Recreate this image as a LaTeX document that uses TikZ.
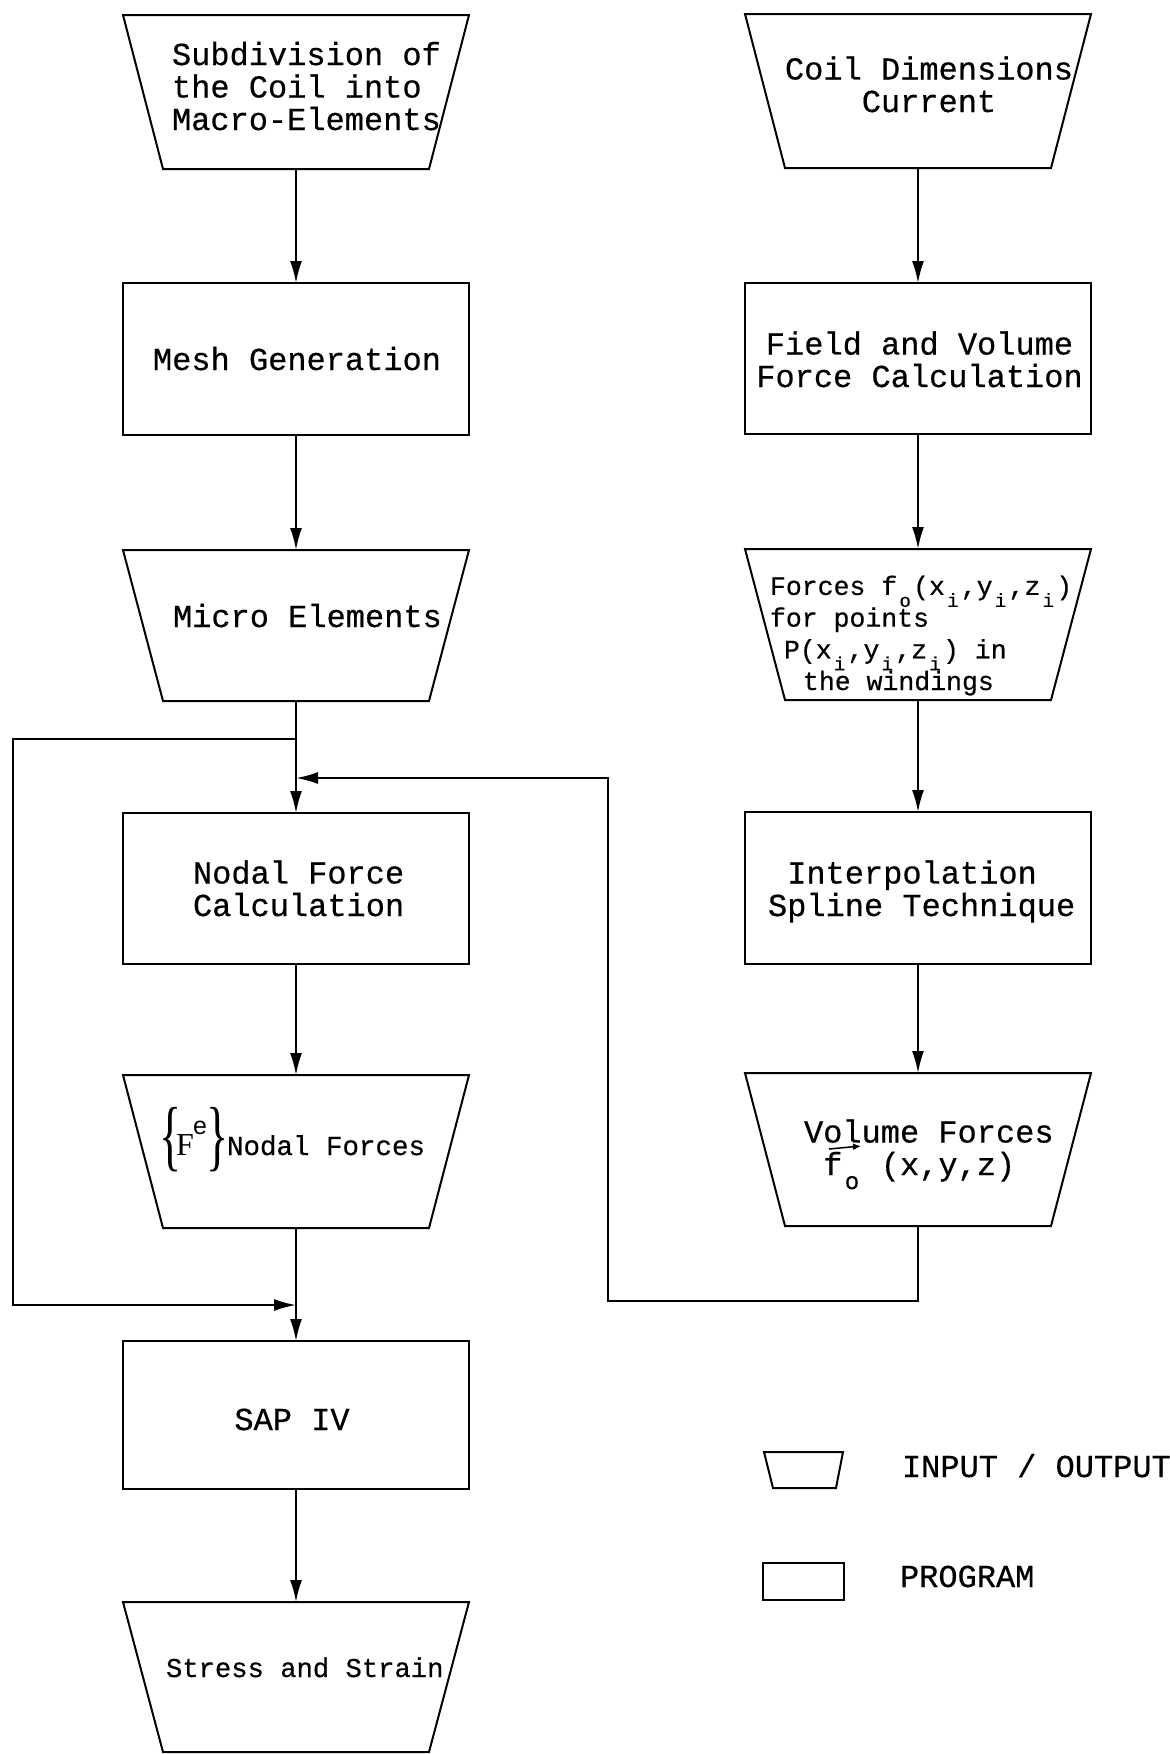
\documentclass[tikz,border=0pt]{standalone}
\usepackage{graphicx}
\usepackage{fontspec}
\setmainfont{Liberation Mono}[FakeBold=0.5]
\newfontfamily\tmsfont{Liberation Serif}
\newfontfamily\tmsans{Liberation Sans}
\usetikzlibrary{arrows.meta}
\newcommand{\bigtxt}{\fontsize{32}{32.5}\selectfont}
\newcommand{\midtxt}{\fontsize{26.5}{31.7}\selectfont}
\newcommand{\lsub}[1]{\makebox[0.6em]{\smash{\raisebox{-12pt}{\fontsize{19}{19}\selectfont #1}}}}
\newcommand{\bigbrace}[1]{\raisebox{-6.4pt}{\scalebox{0.59}[1]{\tmsfont\fontsize{78}{78}\selectfont #1}}}
\tikzset{
  line/.style={line width=2pt},
  arr/.style={line width=2pt, -{Latex[length=22pt,width=12pt]}},
  frame/.style={inner sep=0pt, outer sep=0pt, minimum width=346pt},
  prog/.style={frame, draw, line width=2pt},
  io/.style={frame},
  txt/.style={inner sep=0pt, outer sep=0pt, font=\bigtxt},
}
\begin{document}
\begin{tikzpicture}[x=1pt,y=-1pt]
\fill[white] (0,0) rectangle (1170,1754);
\useasboundingbox (0,0) rectangle (1170,1754);
% left column
\node[io, minimum height=154pt] (sub) at (296,92) {};
\node[prog, minimum height=152pt] (mesh) at (296,359) {};
\node[io, minimum height=151pt] (micro) at (296,625.5) {};
\node[prog, minimum height=151pt] (nodal) at (296,888.5) {};
\node[io, minimum height=153pt] (nforces) at (296,1151.5) {};
\node[prog, minimum height=148pt] (sap) at (296,1415) {};
\node[io, minimum height=150pt] (stress) at (296,1677) {};
% right column
\node[io, minimum height=154pt] (coil) at (918,91) {};
\node[prog, minimum height=151pt] (field) at (918,358.5) {};
\node[io, minimum height=151pt] (forces) at (918,624.5) {};
\node[prog, minimum height=152pt] (interp) at (918,888) {};
\node[io, minimum height=153pt] (volume) at (918,1149.5) {};
% trapezoids (input / output)
\foreach \n in {sub,micro,nforces,stress,coil,forces,volume}
  \draw[line] (\n.north west) -- (\n.north east) -- ([xshift=-40pt]\n.south east) -- ([xshift=40pt]\n.south west) -- cycle;
% junction points
\coordinate (split) at (296,739);
\coordinate (fbin) at (296,778);
\coordinate (join) at (296,1305);
% connectors
\draw[arr] (sub.south) -- (mesh.north);
\draw[arr] (mesh.south) -- (micro.north);
\draw[arr] (micro.south) -- (nodal.north);
\draw[arr] (nodal.south) -- (nforces.north);
\draw[arr] (nforces.south) -- (sap.north);
\draw[arr] (sap.south) -- (stress.north);
\draw[arr] (coil.south) -- (field.north);
\draw[arr] (field.south) -- (forces.north);
\draw[arr] (forces.south) -- (interp.north);
\draw[arr] (interp.south) -- (volume.north);
\draw[arr] (split) -| (12.6,1305) -- (join);
\draw[arr] (volume.south) -- (918,1301) -| (608,778) -- (fbin);
% texts (multi-line nodes are anchored at the baseline of their last line)
\node[txt, anchor=base west, align=left] (subtxt) at (172,130) {Subdivision of\\the Coil into\\Macro-Elements};
\node[txt, anchor=base] (meshtxt) at (297,370) {Mesh Generation};
\node[txt, anchor=base west] (microtxt) at (173,627) {Micro Elements};
\node[txt, anchor=base, align=center] (nodaltxt) at (298.6,916) {Nodal Force\\Calculation};
\node[txt, anchor=base west] (nftxt) at (160,1155) {\rlap{\hspace{-1pt}\bigbrace{\{}}\rlap{\hspace{16pt}{\tmsfont\fontsize{32}{32}\selectfont F}}\rlap{\hspace{33pt}\raisebox{21pt}{\tmsans\fontsize{25}{25}\selectfont e}}\rlap{\hspace{46pt}\bigbrace{\}}}\hspace{67pt}{\fontsize{27.5}{30}\selectfont Nodal Forces}};
\node[txt, anchor=base] (saptxt) at (292,1430) {SAP IV};
\node[txt, anchor=base west, font=\fontsize{27.2}{30}\selectfont] (stresstxt) at (166,1677) {Stress and Strain};
\node[txt, anchor=base, align=center] (coiltxt) at (929,112) {Coil Dimensions\\Current};
\node[txt, anchor=base, align=center] (fieldtxt) at (919.5,387) {Field and Volume\\Force Calculation};
\node[txt, anchor=base west, align=left, font=\midtxt] (forcestxt) at (770,690) {Forces f\lsub{o}(x\lsub{i},y\lsub{i},z\lsub{i})\\for points\\\hspace*{14pt}P(x\lsub{i},y\lsub{i},z\lsub{i}) in\\\hspace*{33pt}the windings};
\node[txt, anchor=base west, align=left] (interptxt) at (768,916) {\hspace*{0.6em}Interpolation\\Spline Technique};
\node[txt, anchor=base west, align=left] (voltxt) at (804,1175) {Volume Forces\\\hspace*{0.6em}f\makebox[0.6em]{\smash{\raisebox{-14pt}{\fontsize{24}{24}\selectfont o}}} (x,y,z)};
\draw[line width=1.5pt, -{Latex[length=8pt,width=7pt]}] (829,1149) -- (861,1146);
% legend
\node[inner sep=0pt, outer sep=0pt, minimum width=79pt, minimum height=36pt] (legio) at (803.5,1470) {};
\draw[line] (legio.north west) -- (legio.north east) -- ([xshift=-7pt]legio.south east) -- ([xshift=9pt]legio.south west) -- cycle;
\node[txt, anchor=base west] (legiotxt) at (902,1477) {INPUT / OUTPUT};
\node[prog, minimum width=81pt, minimum height=37pt] (legprog) at (803.5,1581.5) {};
\node[txt, anchor=base west] (legprogtxt) at (900,1587) {PROGRAM};
\end{tikzpicture}
\end{document}
